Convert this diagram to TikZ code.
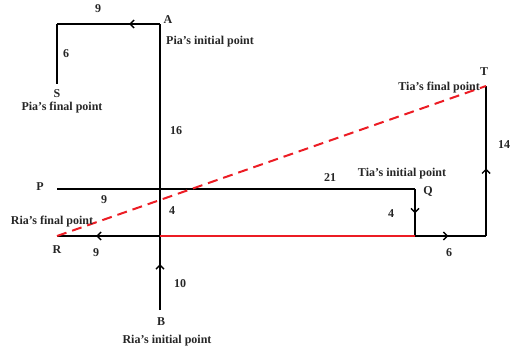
\documentclass[tikz,border=0pt]{standalone}
\usepackage{fontspec}
\setmainfont{Liberation Serif}
\usepackage{tikz}
\usetikzlibrary{arrows.meta, decorations.markings}
\usepackage{xcolor}
\definecolor{pathred}{RGB}{236,28,36}
\tikzset{
  walk/.style={line width=2pt},
  midarrow/.style={postaction={decorate}, decoration={markings,
    mark=at position #1 with {\arrow{Straight Barb[length=4pt,width=8pt,line width=1.4pt]}}}},
  lbl/.style={font=\fontsize{12}{13}\selectfont\bfseries, text=black!85, inner sep=0pt}
}

\begin{document}
\begin{tikzpicture}[x=1pt, y=-1pt]
  \useasboundingbox (0,0) rectangle (510,352);
  \coordinate (A) at (160,24); \coordinate (K) at (57,24); \coordinate (S) at (57,84);
  \coordinate (B) at (160,310); \coordinate (X) at (160,236);
  \coordinate (P) at (57,189); \coordinate (Q) at (415,189); \coordinate (Qd) at (415,236);
  \coordinate (R) at (57,236); \coordinate (U) at (486,236); \coordinate (T) at (486,86);
  \draw[walk, midarrow=0.16] (B) -- (A);
  \draw[walk, midarrow=0.3] (A) -- (K);
  \draw[walk] (K) -- (S);
  \draw[walk] (P) -- (Q);
  \draw[walk, midarrow=0.52] (Q) -- (Qd);
  \draw[walk, midarrow=0.62] (X) -- (R);
  \draw[walk, pathred] (X) -- (Qd);
  \draw[walk, midarrow=0.47] (Qd) -- (U);
  \draw[walk, midarrow=0.45] (U) -- (T);
  \draw[walk, pathred, dash pattern=on 10pt off 6pt] (R) -- (T);
  % labels
  \node[lbl] (l9a) at (98,9) {9};
  \node[lbl] (lA) at (168,20) {A};
  \node[lbl, anchor=west] (lpi) at (166,42) {Pia's initial point};
  \node[lbl] (l6a) at (66,54) {6};
  \node[lbl] (lS) at (57,94) {S};
  \node[lbl] (lpf) at (62,108) {Pia's final point};
  \node[lbl] (l16) at (176,131) {16};
  \node[lbl, anchor=east] (ltf) at (480,88) {Tia's final point};
  \node[lbl] (lT) at (484,72) {T};
  \node[lbl] (l14) at (504,145) {14};
  \node[lbl] (lP) at (40,187) {P};
  \node[lbl] (l9b) at (104,200) {9};
  \node[lbl] (l21) at (330,178) {21};
  \node[lbl] (lti) at (402,174) {Tia's initial point};
  \node[lbl] (lQ) at (428,192) {Q};
  \node[lbl] (l4a) at (172,211) {4};
  \node[lbl] (l4b) at (391,214) {4};
  \node[lbl] (lrf) at (52,222) {Ria's final point};
  \node[lbl] (lR) at (57,250) {R};
  \node[lbl] (l9c) at (96,253) {9};
  \node[lbl] (l6b) at (449,253) {6};
  \node[lbl] (l10) at (180,284) {10};
  \node[lbl] (lB) at (161,322) {B};
  \node[lbl] (lri) at (167,341) {Ria's initial point};
\end{tikzpicture}
\end{document}
